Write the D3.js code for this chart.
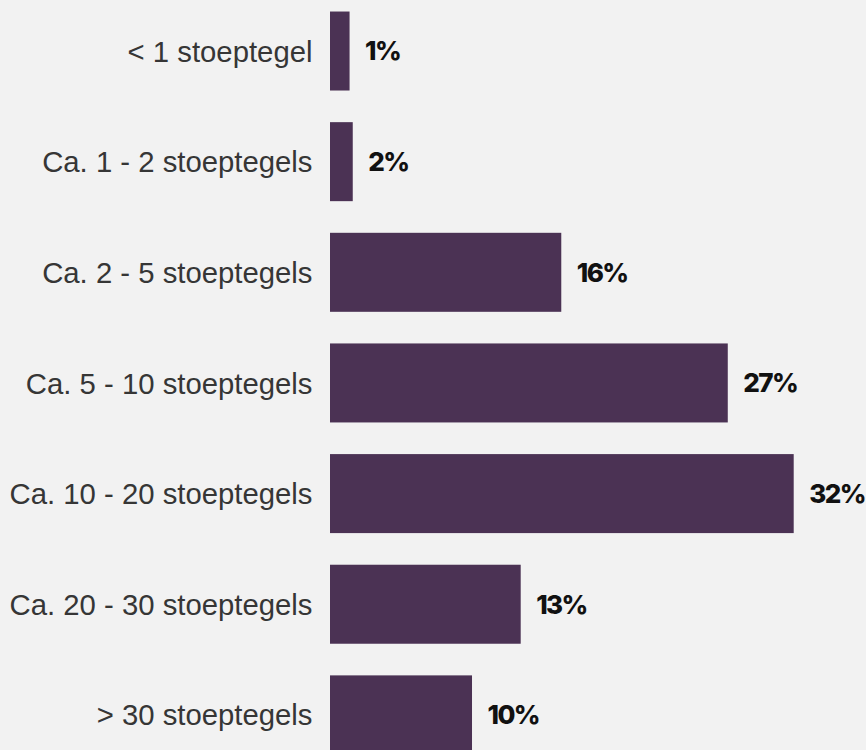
<!DOCTYPE html>
<html>
<head>
<meta charset="utf-8">
<script src="https://cdn.jsdelivr.net/npm/d3@7"></script>
<style>
  html, body { margin: 0; padding: 0; background: #f2f2f2; }
  svg { display: block; }
</style>
</head>
<body>
<svg id="chart" width="866" height="750"></svg>
<script>
const categories = [
  "< 1 stoeptegel",
  "Ca. 1 - 2 stoeptegels",
  "Ca. 2 - 5 stoeptegels",
  "Ca. 5 - 10 stoeptegels",
  "Ca. 10 - 20 stoeptegels",
  "Ca. 20 - 30 stoeptegels",
  "> 30 stoeptegels"
];
const values = [1.35, 1.57, 15.96, 27.45, 32.0, 13.16, 9.8];

const svg = d3.select("#chart");
const W = 866, H = 750;

svg.append("rect").attr("width", W).attr("height", H).attr("fill", "#f2f2f2");

const x = d3.scaleLinear().domain([0, 32]).range([330, 793.7]);
const y = d3.scaleBand()
  .domain(categories)
  .range([-4.3, 770.2])
  .paddingInner(0.286)
  .paddingOuter(0.143);

const data = categories.map((c, i) => ({ c, v: values[i] }));

svg.append("g").selectAll("rect")
  .data(data).join("rect")
  .attr("x", x(0))
  .attr("y", d => y(d.c))
  .attr("width", d => x(d.v) - x(0))
  .attr("height", y.bandwidth())
  .attr("fill", "#4b3254");

// category labels via axis
const axis = d3.axisLeft(y).tickSize(0).tickPadding(0);
const gA = svg.append("g").attr("transform", "translate(312.5,0)").call(axis);
gA.select(".domain").remove();
gA.selectAll("text")
  .attr("font-family", "'Liberation Sans', Arial, sans-serif")
  .attr("font-size", "29.3px")
  .attr("fill", "#363636")
  .attr("dy", "0.36em");

// value labels
svg.append("g").selectAll("text")
  .data(data).join("text")
  .attr("x", d => x(d.v) + 15.5)
  .attr("y", d => y(d.c) + y.bandwidth() / 2)
  .attr("dy", "0.36em")
  .attr("font-family", "Inter, Lato, sans-serif")
  .attr("font-weight", 800)
  .attr("font-size", "26px")
  .attr("letter-spacing", "-1.6px")
  .attr("fill", "#111111")
  .text(d => Math.round(d.v) + "%");
</script>
</body>
</html>
